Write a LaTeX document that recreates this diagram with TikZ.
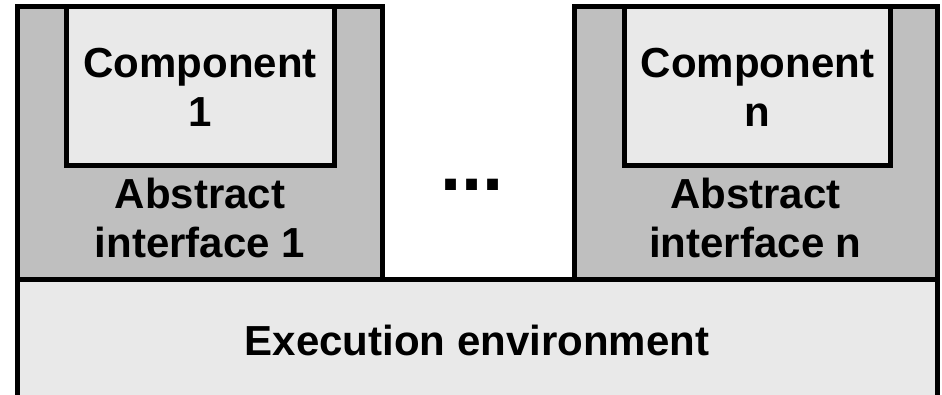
\documentclass[tikz,border=0pt]{standalone}
\usepackage{fontspec}
\setmainfont{Liberation Sans}
\usetikzlibrary{positioning}
\definecolor{c0}{gray}{0.75}
\definecolor{c1}{gray}{0.915}
\tikzset{%
  layer/.style={draw=black,line width=2.5pt,fill=#1},
  layer/.default=c0,
  lbl/.style={font=\bfseries\fontsize{21}{24.5}\selectfont,align=center,inner sep=0pt}
}

\begin{document}
\begin{tikzpicture}[x=0.5pt,y=-0.5pt]
  \clip (0,0) rectangle (942,395);
  \coordinate (p0) at (17.5,6.5);
  \coordinate (p1) at (382.5,280);
  \coordinate (p2) at (574,6.5);
  \coordinate (p3) at (937,280);
  \filldraw[layer] (p0) rectangle (p1);
  \filldraw[layer] (p2) rectangle (p3);
  %%%
  \filldraw[layer=c1] (66.5,6.5) rectangle (334,165.5);
  \filldraw[layer=c1] (624.5,6.5) rectangle (890.5,165.5);
  \filldraw[layer=c1] (17.5,280) rectangle (937,430);
  %%
  \node[lbl] (comp1) at (200,87.5) {Component\\1};
  \node[lbl] (compn) at (757.5,87.5) {Component\\n};
  \node[lbl] (if1) at (200,217.5) {Abstract\\interface 1};
  \node[lbl] (ifn) at (755.5,217.5) {Abstract\\interface n};
  \node[lbl] (env) at (477,340.5) {Execution environment};
  \node[lbl,font=\bfseries\fontsize{38}{40}\selectfont,anchor=base] (dots) at (472,190.5) {...};
\end{tikzpicture}
\end{document}
